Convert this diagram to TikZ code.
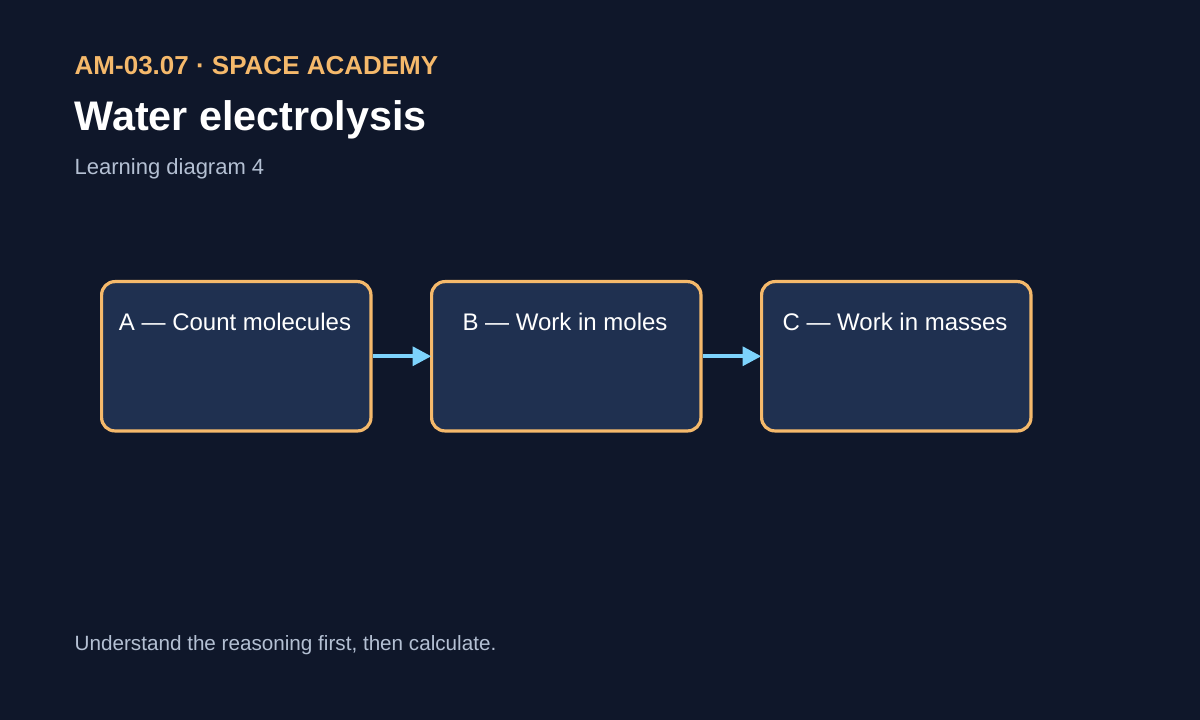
\documentclass[tikz,border=0pt]{standalone}
\usepackage{fontspec}
\setmainfont{Liberation Sans}
\usetikzlibrary{arrows.meta,positioning}
\definecolor{bgcol}{HTML}{0F172A}
\definecolor{boxcol}{HTML}{1F3050}
\definecolor{edgecol}{HTML}{F5B96B}
\definecolor{arrowcol}{HTML}{7DD3FC}
\definecolor{subcol}{HTML}{B4C0D3}
\tikzset{
  stagebox/.style = {draw = edgecol, line width = 2.4pt, fill = boxcol, rounded corners = 10pt,
    minimum width = 202pt, minimum height = 112pt, anchor = north west},
  stagelabel/.style = {text = white, font = \fontsize{18}{20}\selectfont, anchor = base},
  flow/.style = {draw = arrowcol, line width = 3pt, -{Triangle[length = 14pt, width = 14pt]}, shorten >= -1pt}
}
\begin{document}
\begin{tikzpicture}[x = 0.75pt, y = -0.75pt]
\fill[bgcol] (0, 0) rectangle (1200, 720);
\node[anchor = base west, text = edgecol, font = \fontsize{19.5}{22}\selectfont\bfseries] (code) at (70, 75) {AM-03.07 · SPACE ACADEMY};
\node[anchor = base west, text = white, font = \fontsize{31}{34}\selectfont\bfseries] (title) at (70, 131) {Water electrolysis};
\node[anchor = base west, text = subcol, font = \fontsize{16.5}{19}\selectfont] (subtitle) at (70, 175) {Learning diagram 4};
% stages
\node[stagebox] (a) at (100, 280) {};
\node[stagebox] (b) at (430, 280) {};
\node[stagebox] (c) at (760, 280) {};
\node[stagelabel] (alabel) at (235, 330) {A — Count molecules};
\node[stagelabel] (blabel) at (565, 330) {B — Work in moles};
\node[stagelabel] (clabel) at (895, 330) {C — Work in masses};
\draw[flow] (a.east) -- (b.west);
\draw[flow] (b.east) -- (c.west);
\node[anchor = base west, text = subcol, font = \fontsize{15.5}{18}\selectfont] (note) at (70, 650) {Understand the reasoning first, then calculate.};
\end{tikzpicture}
\end{document}
